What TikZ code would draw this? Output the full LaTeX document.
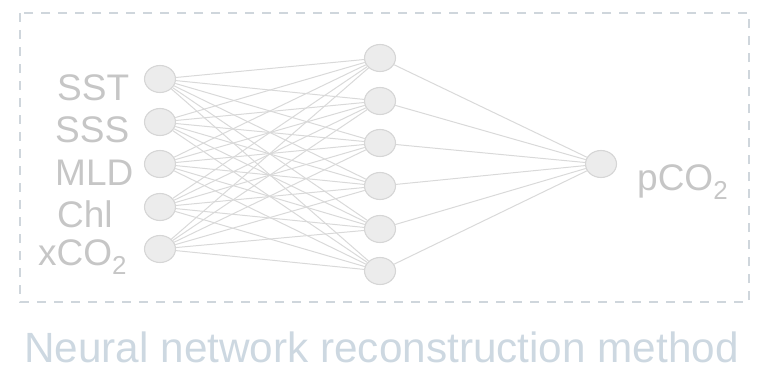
\documentclass[tikz,border=0pt]{standalone}
\usepackage{fontspec}
\setmainfont{Liberation Sans}
\usetikzlibrary{shapes.geometric, positioning}
\definecolor{labelgrey}{HTML}{C6C6C6}
\definecolor{neuronfill}{HTML}{ECECEC}
\definecolor{neuronline}{HTML}{D6D6D6}
\definecolor{edgegrey}{HTML}{D9D9D9}
\definecolor{frameblue}{HTML}{CFD6DC}
\definecolor{titleblue}{HTML}{CDD8E1}

\begin{document}
\begin{tikzpicture}[
    x=1pt, y=-1pt,
    neuron/.style={ellipse, draw=neuronline, fill=neuronfill, line width=1.1pt, minimum width=31pt, minimum height=27pt, inner sep=0pt},
    edge/.style={draw=edgegrey, line width=1pt},
    varlabel/.style={font=\fontsize{37}{40}\selectfont, text=labelgrey, inner sep=0pt, anchor=base west},
    frame/.style={draw=frameblue, line width=1.5pt, dash pattern=on 9pt off 8pt},
    title/.style={font=\fontsize{42.3}{46}\selectfont, text=titleblue, inner sep=0pt, anchor=base west}
]
\useasboundingbox (0,0) rectangle (759,370);

% Frame
\draw[frame] (20,13) rectangle (749,302);

% Input layer
\foreach \i/\y in {1/79, 2/122, 3/164, 4/207, 5/249}
    \node[neuron] (in\i) at (160,\y) {};

% Hidden layer
\foreach \j/\y in {1/58, 2/101, 3/143, 4/186, 5/229, 6/271}
    \node[neuron] (hid\j) at (380,\y) {};

% Output layer
\node[neuron] (out) at (601,164) {};

% Connections
\foreach \i in {1,...,5}
    \foreach \j in {1,...,6}
        \draw[edge] (in\i) -- (hid\j);
\foreach \j in {1,...,6}
    \draw[edge] (hid\j) -- (out);

% Labels
\node[varlabel] (sst) at (57,100) {SST};
\node[varlabel] (sss) at (55,142) {SSS};
\node[varlabel] (mld) at (55,185) {MLD};
\node[varlabel] (chl) at (57,227) {Chl};
\node[varlabel] (xco) at (38,265) {xCO\textsubscript{2}};
\node[varlabel] (pco) at (637,190) {pCO\textsubscript{2}};

% Title
\node[title] (method) at (24,362) {Neural network reconstruction method};

\end{tikzpicture}
\end{document}
